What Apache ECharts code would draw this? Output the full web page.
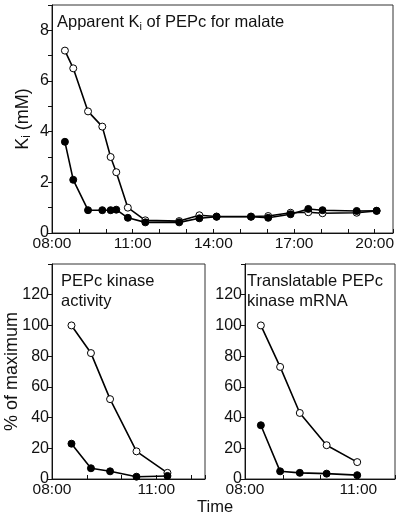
<!DOCTYPE html>
<html>
<head>
<meta charset="utf-8">
<script src="https://cdn.jsdelivr.net/npm/echarts@6/dist/echarts.min.js"></script>
<style>
html,body{margin:0;padding:0;background:#fff;}
#c{width:400px;height:521px;}
</style>
</head>
<body>
<div id="c"></div>
<script>
// Top panel: apparent Ki of PEPc for malate (mM) vs time of day (h)
var topTime   = [8.48, 8.79, 9.34, 9.87, 10.18, 10.39, 10.82, 11.47, 12.73, 13.48, 14.12, 15.40, 16.04, 16.87, 17.53, 18.06, 19.33, 20.07];
var topOpen   = [7.2, 6.5, 4.8, 4.2, 3.0, 2.4, 1.0, 0.5, 0.47, 0.7, 0.65, 0.65, 0.67, 0.8, 0.82, 0.78, 0.8, 0.87];
var topFilled = [3.6, 2.1, 0.9, 0.9, 0.9, 0.92, 0.6, 0.42, 0.42, 0.58, 0.64, 0.64, 0.6, 0.74, 0.95, 0.9, 0.87, 0.88];
// Bottom left: PEPc kinase activity (% of maximum)
var actTime   = [8.56, 9.12, 9.67, 10.43, 11.32];
var actOpen   = [100, 82, 52, 18, 4];
var actFilled = [23, 7, 5, 1.5, 2];
// Bottom right: translatable PEPc kinase mRNA (% of maximum)
var mrnaTime   = [8.42, 8.93, 9.45, 10.16, 10.97];
var mrnaOpen   = [100, 73, 43, 22, 11];
var mrnaFilled = [35, 5, 4, 3.5, 2.5];
// Tick labels
var topYLabels = [0, 2, 4, 6, 8];
var pctLabels = [0, 20, 40, 60, 80, 100, 120];
var topXLabels = [8, 11, 14, 17, 20];
var botXLabels = [8, 11];

var FONT = 'Liberation Sans';
var chart = echarts.init(document.getElementById('c'), null, {renderer: 'canvas'});

function pair(t, v) { return t.map(function (x, i) { return [x, v[i]]; }); }
function hh(v) { var h = Math.round(v); return (h < 10 ? '0' : '') + h + ':00'; }
function xFmt(list) {
  return function (v) {
    for (var i = 0; i < list.length; i++) if (Math.abs(v - list[i]) < 1e-6) return hh(v);
    return '';
  };
}
function yFmt(list) {
  return function (v) {
    for (var i = 0; i < list.length; i++) if (Math.abs(v - list[i]) < 1e-6) return String(list[i]);
    return '';
  };
}
function xAxis(idx, max, labels) {
  return {
    type: 'value', gridIndex: idx, min: 8, max: max, interval: 1,
    axisLine: {show: true, lineStyle: {color: '#111', width: 1}},
    axisTick: {show: true, inside: true, length: 4, lineStyle: {color: '#111'}},
    axisLabel: {formatter: xFmt(labels), color: '#111', fontSize: 15.5, fontFamily: FONT, margin: 3,
                showMinLabel: true, showMaxLabel: true},
    splitLine: {show: false}
  };
}
function yAxis(idx, max, interval, labels, extra) {
  var a = {
    type: 'value', gridIndex: idx, min: 0, max: max, interval: interval,
    axisLine: {show: true, lineStyle: {color: '#111', width: 1}},
    axisTick: {show: true, inside: false, length: 4, lineStyle: {color: '#111'}},
    axisLabel: {formatter: yFmt(labels), color: '#111', fontSize: 16, fontFamily: FONT, margin: 3,
                showMinLabel: true, showMaxLabel: true},
    splitLine: {show: false},
    nameMoveOverlap: false
  };
  if (extra) for (var k in extra) a[k] = extra[k];
  return a;
}
function ser(idx, data, filled) {
  return {
    type: 'line', xAxisIndex: idx, yAxisIndex: idx, data: data,
    symbol: 'circle', symbolSize: 7, showSymbol: true,
    lineStyle: {color: '#000', width: 1.6},
    itemStyle: {color: filled ? '#000' : '#fff', borderColor: '#000', borderWidth: 1},
    z: filled ? 3 : 2, animation: false
  };
}
var gridBase = {show: true, borderColor: '#333', borderWidth: 1, backgroundColor: 'transparent',
                containLabel: false, outerBoundsMode: 'none'};
function grid(l, t, r, b) {
  var g = {}; for (var k in gridBase) g[k] = gridBase[k];
  g.left = l; g.top = t; g.right = r; g.bottom = b; return g;
}
var plain = {fontFamily: FONT, color: '#111', fontWeight: 'normal'};
function st(extra) { var o = {}; for (var k in plain) o[k] = plain[k]; for (var j in extra) o[j] = extra[j]; return o; }

var option = {
  backgroundColor: '#fff',
  animation: false,
  grid: [grid(52, 5, 7, 288), grid(52, 264, 195, 42), grid(245, 264, 5, 42)],
  xAxis: [xAxis(0, 20.68, topXLabels), xAxis(1, 12.4, botXLabels), xAxis(2, 11.97, botXLabels)],
  yAxis: [
    yAxis(0, 9, 1, topYLabels, {
      name: '{a|K}{s|i}{a| (mM)}', nameLocation: 'middle', nameGap: 19, nameRotate: 90,
      nameTextStyle: st({rich: {
        a: st({fontSize: 18, lineHeight: 20}),
        s: st({fontSize: 12, lineHeight: 8, verticalAlign: 'bottom'})
      }})
    }),
    yAxis(1, 140, 20, pctLabels, {
      name: '% of maximum', nameLocation: 'middle', nameGap: 31, nameRotate: 90,
      nameTextStyle: st({fontSize: 18})
    }),
    yAxis(2, 140, 20, pctLabels)
  ],
  title: [
    {left: 57, top: 12, text: '{a|Apparent K}{s|i}{a| of PEPc for malate}', padding: 0,
     textStyle: st({rich: {
       a: st({fontSize: 16.5, lineHeight: 20}),
       s: st({fontSize: 11, lineHeight: 8, verticalAlign: 'bottom'})
     }})},
    {left: 61, top: 271, text: 'PEPc kinase\nactivity', padding: 0,
     textStyle: st({fontSize: 16.5, lineHeight: 20})},
    {left: 247, top: 271, text: 'Translatable PEPc\nkinase mRNA', padding: 0,
     textStyle: st({fontSize: 16.5, lineHeight: 20})}
  ],
  graphic: [
    {type: 'text', left: 197, top: 499, style: {text: 'Time', fontSize: 16.5, fontFamily: FONT, fill: '#111'}}
  ],
  series: [
    ser(0, pair(topTime, topOpen), false),
    ser(0, pair(topTime, topFilled), true),
    ser(1, pair(actTime, actOpen), false),
    ser(1, pair(actTime, actFilled), true),
    ser(2, pair(mrnaTime, mrnaOpen), false),
    ser(2, pair(mrnaTime, mrnaFilled), true)
  ]
};
chart.setOption(option);
</script>
</body>
</html>
